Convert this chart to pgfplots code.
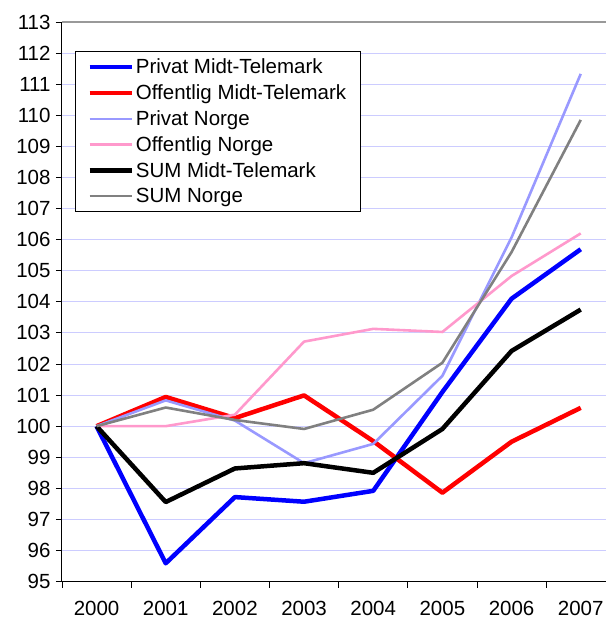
\documentclass[border=0pt]{standalone}
\usepackage{fontspec}
\setmainfont{Liberation Sans}
\usepackage{pgfplots}
\pgfplotsset{compat=1.18}
\definecolor{gridlav}{HTML}{CCCCFF}
\definecolor{lightblue}{HTML}{9999FF}
\definecolor{pinkish}{HTML}{FF99CC}
\definecolor{sumgray}{HTML}{808080}

\begin{document}
\begin{tikzpicture}
\begin{axis}[
    scale only axis,
    width=544pt, height=560pt,
    xmin=-0.5, xmax=7.36,
    ymin=95, ymax=113,
    axis x line*=bottom, axis y line*=left,
    axis line style={black, line width=1pt},
    xtick={-0.5,0.5,...,6.5}, xticklabels={},
    extra x ticks={0,1,...,7},
    extra x tick labels={2000,2001,2002,2003,2004,2005,2006,2007},
    extra x tick style={major tick length=0pt, xticklabel style={yshift=-16pt}},
    ytick={95,96,...,113},
    ymajorgrids,
    grid style={gridlav, line width=0.9pt},
    extra y ticks={113}, extra y tick labels={},
    extra y tick style={grid style={gray!80, line width=1.4pt}},
    tick align=outside, major tick length=6pt,
    tick style={black, line width=0.9pt},
    ticklabel style={font=\fontsize{20.5}{23}\selectfont},
    yticklabel style={xshift=-2pt},
    /pgf/number format/assume math mode=true,
    legend style={at={(0.024,0.948)}, anchor=north west, draw=black, line width=0.9pt,
        font=\fontsize{20.5}{23}\selectfont, row sep=5.5pt,
        inner xsep=12pt, inner ysep=5.5pt},
    legend cell align=left,
    legend image code/.code={\draw[#1] (0pt,0pt) -- (42pt,0pt);},
    clip=false,
]
\addplot[blue, line width=4.5pt, line join=round] coordinates {
    (0,100) (1,95.59) (2,97.72) (3,97.57) (4,97.92) (5,101.1) (6,104.1) (7,105.69)
};
\addlegendentry{Privat Midt-Telemark}
\addplot[red, line width=4.5pt, line join=round] coordinates {
    (0,100) (1,100.94) (2,100.26) (3,100.99) (4,99.52) (5,97.86) (6,99.5) (7,100.59)
};
\addlegendentry{Offentlig Midt-Telemark}
\addplot[lightblue, line width=2.6pt, line join=round] coordinates {
    (0,100) (1,100.83) (2,100.18) (3,98.81) (4,99.43) (5,101.62) (6,106.07) (7,111.33)
};
\addlegendentry{Privat Norge}
\addplot[pinkish, line width=2.6pt, line join=round] coordinates {
    (0,100) (1,100) (2,100.37) (3,102.72) (4,103.13) (5,103.03) (6,104.83) (7,106.2)
};
\addlegendentry{Offentlig Norge}
\addplot[black, line width=4.5pt, line join=round] coordinates {
    (0,100) (1,97.56) (2,98.64) (3,98.81) (4,98.5) (5,99.91) (6,102.42) (7,103.75)
};
\addlegendentry{SUM Midt-Telemark}
\addplot[sumgray, line width=2.6pt, line join=round] coordinates {
    (0,100) (1,100.6) (2,100.2) (3,99.91) (4,100.53) (5,102.04) (6,105.6) (7,109.85)
};
\addlegendentry{SUM Norge}
\end{axis}
\path (current axis.south west) ++(-62pt,-37pt) coordinate (bl);
\path (current axis.north east) ++(0pt,22pt) coordinate (tr);
\path[use as bounding box] (bl) rectangle (tr);
\end{tikzpicture}
\end{document}
